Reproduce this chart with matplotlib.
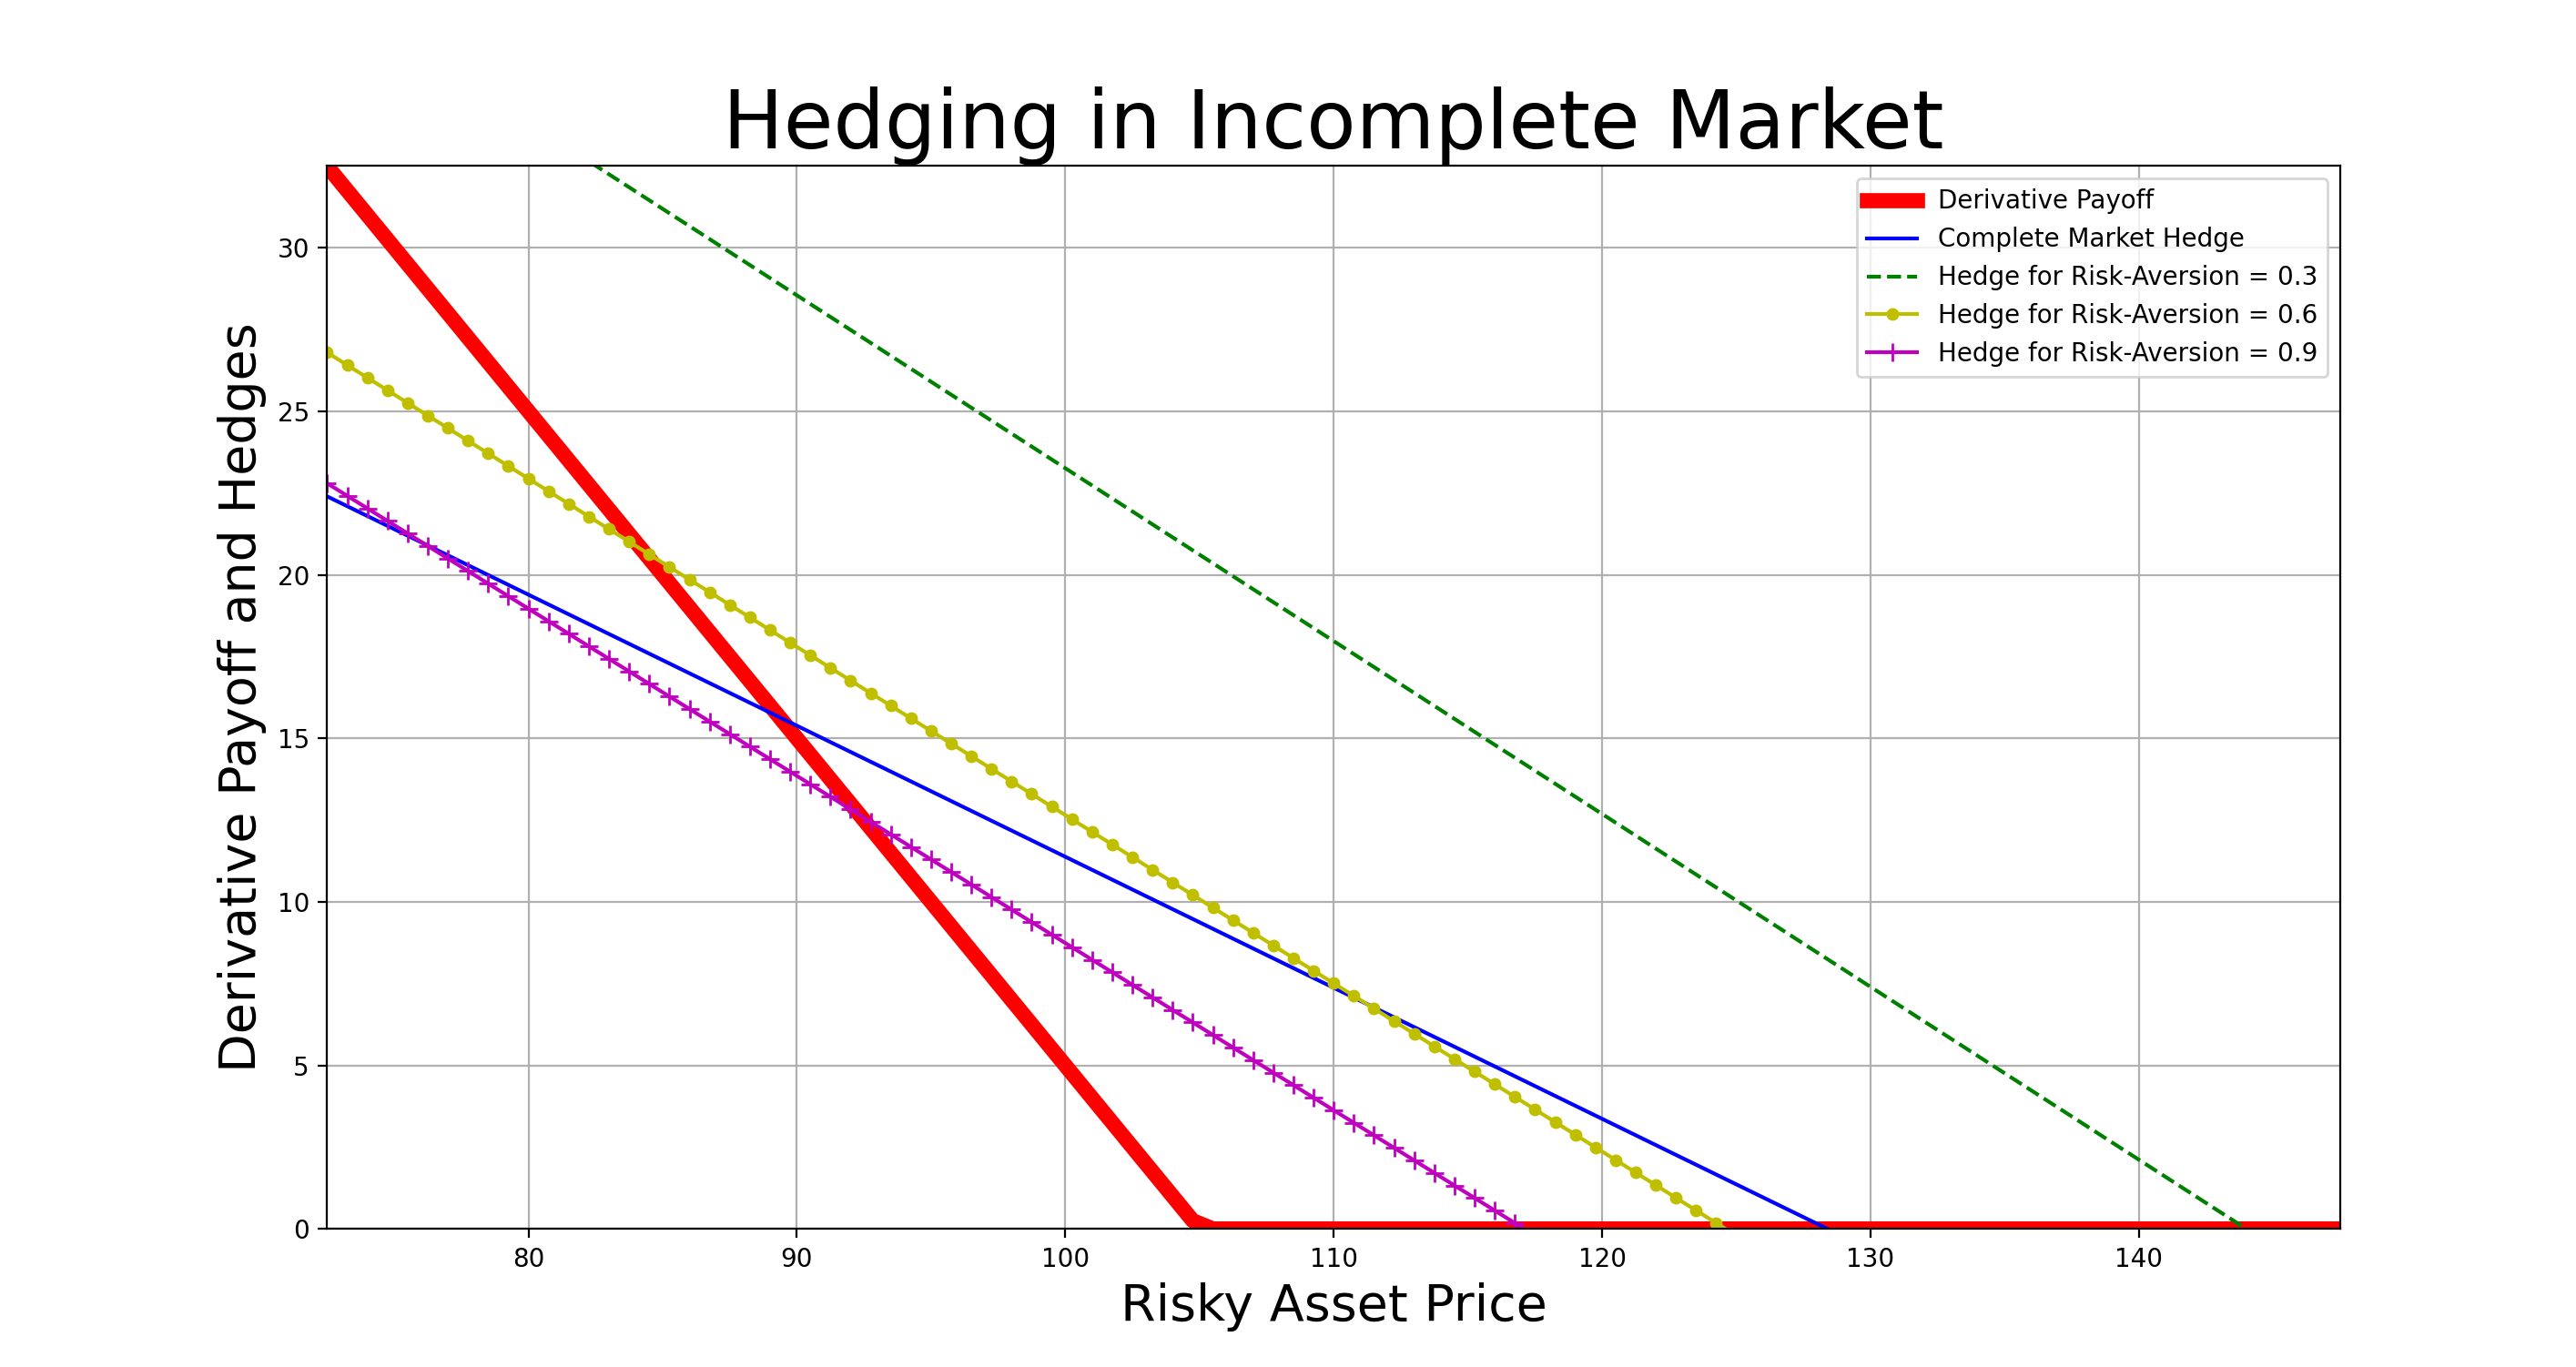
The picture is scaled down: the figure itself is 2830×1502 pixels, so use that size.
import numpy as np
import matplotlib
matplotlib.use("Agg")
import matplotlib.pyplot as plt

# price grid
s_min, s_max, n_pts = 72.5, 147.5, 101
strike = 105.0
# hedges: (label, value at s_min, price where hedge reaches zero)
hedge_labels = ["Complete Market Hedge", "Hedge for Risk-Aversion = 0.3",
                "Hedge for Risk-Aversion = 0.6", "Hedge for Risk-Aversion = 0.9"]
hedge_start = [22.4, 37.8, 26.8, 22.8]
hedge_zero = [128.4, 144.0, 124.6, 117.1]

S = np.linspace(s_min, s_max, n_pts)
payoff = np.maximum(strike - S, 0)

fig = plt.figure(figsize=(14.15, 7.51), dpi=200)
ax = fig.add_axes([0.127, 0.101, 0.7815, 0.7775])
ax.plot(S, payoff, color="red", lw=6, label="Derivative Payoff")
styles = [dict(color="b", ls="-"), dict(color="g", ls="--"),
          dict(color="y", ls="-", marker="o", ms=4), dict(color="m", ls="-", marker="+", ms=7)]
for lab, a, z, st in zip(hedge_labels, hedge_start, hedge_zero, styles):
    y = a * (z - S) / (z - s_min)
    ax.plot(S, y, label=lab, lw=1.5, **st)

ax.set_xlim(s_min, s_max)
ax.set_ylim(0, 32.5)
ax.grid(True)
ax.set_title("Hedging in Incomplete Market", fontsize=32)
ax.set_xlabel("Risky Asset Price", fontsize=20)
ax.set_ylabel("Derivative Payoff and Hedges", fontsize=20)
ax.legend(loc="upper right", fontsize=10)
fig.savefig("out.png", dpi=200)
